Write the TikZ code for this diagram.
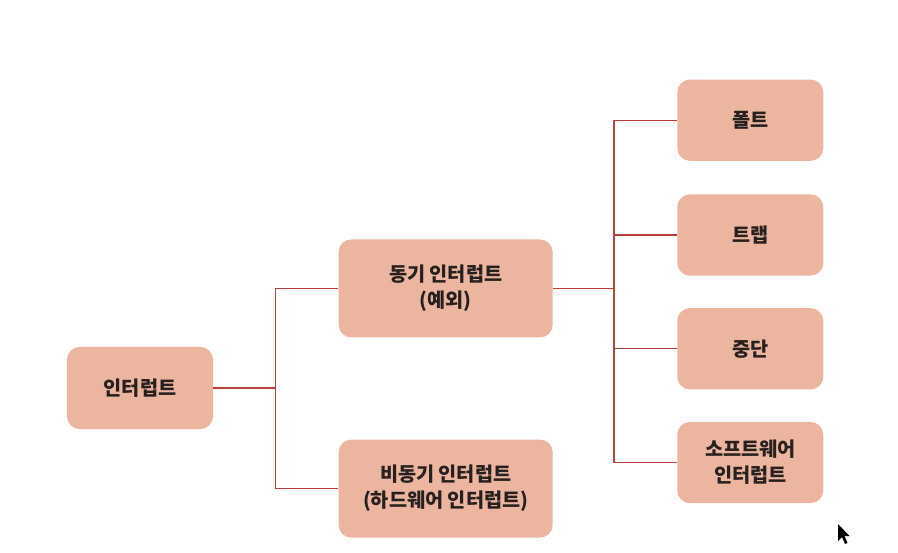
\documentclass[tikz,border=0pt]{standalone}
\usepackage{fontspec}
\newfontfamily\krfont{Noto Sans CJK KR}
\usepackage{tikz}
\usetikzlibrary{positioning, calc}
\definecolor{boxfill}{RGB}{235, 181, 160}
\definecolor{linkred}{RGB}{185, 62, 60}
\definecolor{textdark}{RGB}{40, 32, 30}
\tikzset{
  irqbox/.style={rounded corners=9pt, fill=boxfill, draw=none, text=textdark, align=center,
    font=\krfont\bfseries\fontsize{14}{18.5}\selectfont, inner sep=2pt},
  rootbox/.style={irqbox, minimum width=3.65cm, minimum height=2.05cm},
  midbox/.style={irqbox, minimum width=5.35cm, minimum height=2.45cm},
  leafbox/.style={irqbox, minimum width=3.65cm, minimum height=2.03cm},
  link/.style={linkred, line width=1pt},
}

\begin{document}
\begin{tikzpicture}[x=0.025cm, y=-0.025cm]
  \useasboundingbox (0,0) rectangle (898,552);
  % tree of interrupt kinds
  \node[rootbox] (irq) at (140,388) {인터럽트};
  \node[midbox] (sync) [above right=0.225cm and 3.125cm of irq.north east, anchor=south west] {동기 인터럽트\\(예외)};
  \node[midbox] (async) [below right=0.25cm and 3.125cm of irq.south east, anchor=north west] {비동기 인터럽트\\(하드웨어 인터럽트)};
  \node[leafbox] (fault) [above right=1.95cm and 3.1cm of sync.north east, anchor=south west] {폴트};
  \node[leafbox] (trap) [below=0.825cm of fault] {트랩};
  \node[leafbox] (abort) [below=0.8cm of trap] {중단};
  \node[leafbox] (swirq) [below=0.8cm of abort] {소프트웨어\\인터럽트};
  \coordinate (j1) at ($(irq.east)+(1.55cm,0)$);
  \coordinate (j2) at ($(sync.east)+(1.525cm,0)$);
  \draw[link] (irq.east) -- (j1);
  \draw[link] (j1) |- (sync.west);
  \draw[link] (j1) |- (async.west);
  \draw[link] (sync.east) -- (j2);
  \foreach \leaf in {fault, trap, abort, swirq}
    \draw[link] (j2) |- (\leaf.west);
  % mouse pointer
  \fill[black] (838,524) -- (838,541) -- (842,537) -- (845,544) -- (847.5,543) -- (844.5,536) -- (849.5,536) -- cycle;
\end{tikzpicture}
\end{document}
